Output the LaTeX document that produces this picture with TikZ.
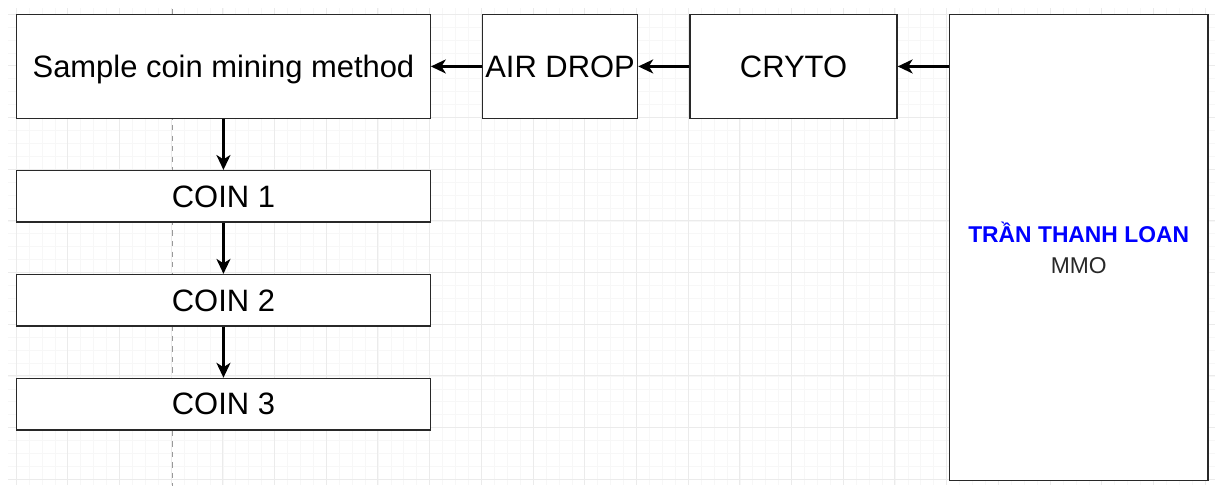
\documentclass[tikz,border=0pt]{standalone}
\usepackage{fontspec}
\setmainfont{Liberation Sans}
\usetikzlibrary{positioning, arrows.meta}
\definecolor{loanblue}{RGB}{0,0,255}
\definecolor{boxline}{RGB}{40,40,40}
\tikzset{
>={Stealth[length=8.5pt, width=8pt, inset=2.5pt]}, % bold arrow heads like the drawing
node distance=1.02cm, % gap between two boxes, one grid cell
box/.style={draw=boxline, line width=0.8pt, fill=white, inner sep=0pt, text depth=0pt, font=\fontsize{17.6}{21}\selectfont}, % every box
wide/.style={minimum width=8.27cm}, % left column boxes
link/.style={->, line width=1.2pt, black}, % the connectors
minorgrid/.style={line width=0.3pt, black!3},
majorgrid/.style={line width=0.5pt, black!8},
}

\begin{document}
\begin{tikzpicture}
    \useasboundingbox (0,0) rectangle (24.3,-9.9);
    % background grid
    \begin{scope}[shift={(0.32,-0.28)}]
        \clip (-0.16,0.1) rectangle (23.98,-9.4);
        \draw[minorgrid, step=0.2585cm] (-0.52,0.52) grid (24.3,-9.8);
        \draw[majorgrid, step=1.034cm] (-1.034,1.034) grid (24.8,-10.34);
    \end{scope}
    \draw[black!40, dashed, line width=0.5pt] (3.44,-0.18) -- (3.44,-9.72);

    \node[box, wide, minimum height=2.07cm, anchor=north west] (sample) at (0.32,-0.28) {Sample coin mining method};
    \node[box, minimum width=3.1cm, minimum height=2.07cm, right=of sample] (airdrop) {AIR DROP};
    \node[box, minimum width=4.14cm, minimum height=2.07cm, right=of airdrop] (cryto) {CRYTO};
    \node[box, minimum width=5.17cm, minimum height=9.31cm, right=of cryto.north east, anchor=north west,
          text depth=, font=\fontsize{13}{17.6}\selectfont, align=center] (loan)
          {{\color{loanblue}\bfseries TRẦN THANH LOAN}\\{\color{boxline}MMO}};
    \node[box, wide, minimum height=1.03cm, below=of sample] (coin1) {COIN 1};
    \node[box, wide, minimum height=1.03cm, below=of coin1] (coin2) {COIN 2};
    \node[box, wide, minimum height=1.03cm, below=of coin2] (coin3) {COIN 3};

    \draw[link] (loan.west |- cryto.east) -- (cryto.east);
    \draw[link] (cryto) -- (airdrop);
    \draw[link] (airdrop) -- (sample);
    \draw[link] (sample) -- (coin1);
    \draw[link] (coin1) -- (coin2);
    \draw[link] (coin2) -- (coin3);
\end{tikzpicture}
\end{document}
